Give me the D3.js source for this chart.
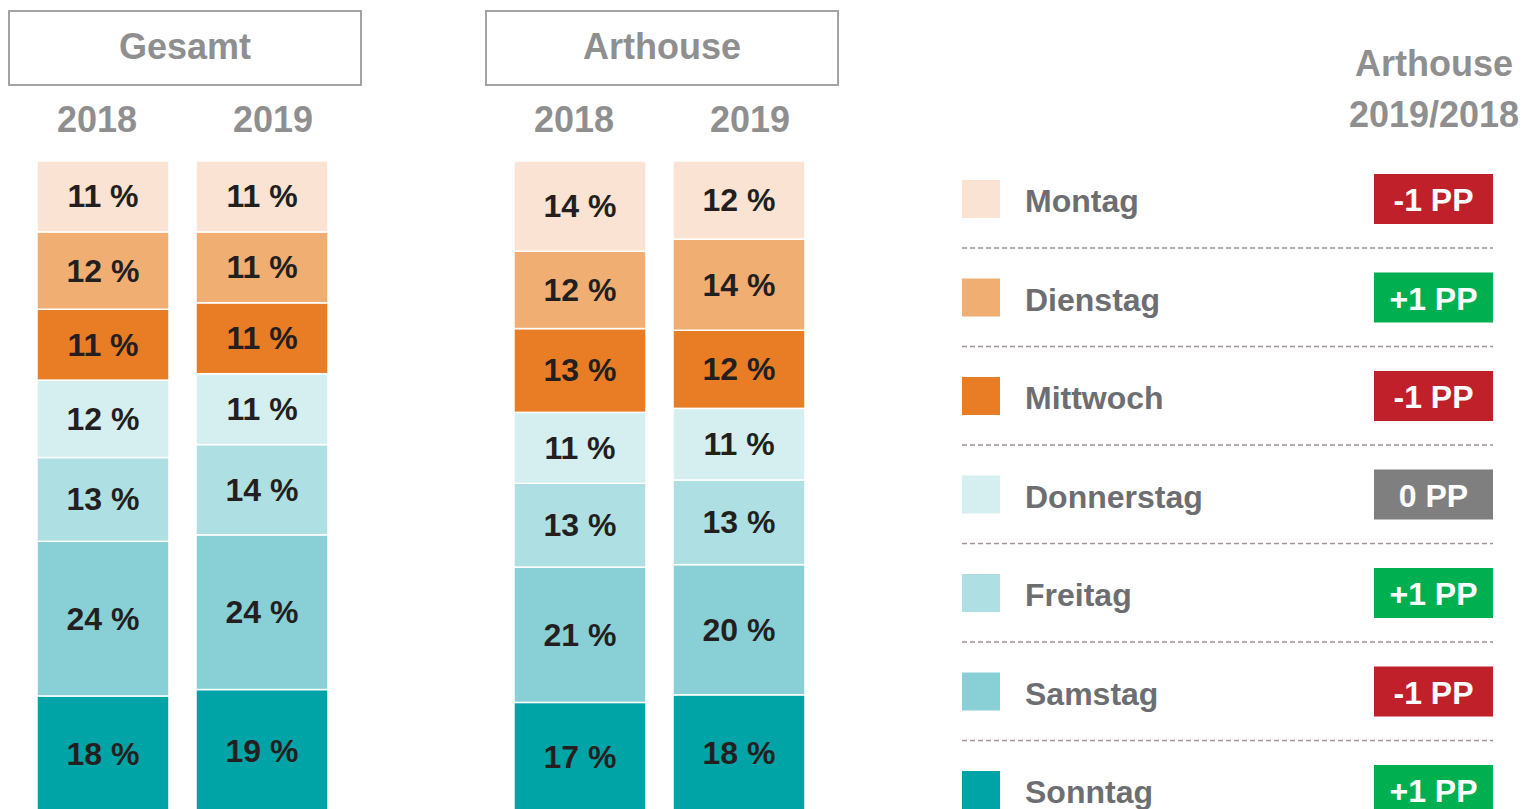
<!DOCTYPE html>
<html>
<head>
<meta charset="utf-8">
<script src="https://cdn.jsdelivr.net/npm/d3@7"></script>
<style>
  html, body { margin: 0; padding: 0; background: #fff; }
  svg { display: block; font-family: "Liberation Sans", Arial, sans-serif; }
</style>
</head>
<body>
<svg id="chart" width="1526" height="809"></svg>
<script>
// Weekday share of cinema visits, stacked from Sonntag (bottom) to Montag (top)
const days = ["Montag", "Dienstag", "Mittwoch", "Donnerstag", "Freitag", "Samstag", "Sonntag"];
const dayColors = ["#fae3d2", "#f0ae72", "#e87d25", "#d5eef0", "#aedfe2", "#88d0d5", "#00a4a6"];

const groups = ["Gesamt", "Arthouse"];
const years = ["2018", "2019"];

const gesamt2018 = [11, 12, 11, 12, 13, 24, 18];
const gesamt2019 = [11, 11, 11, 11, 14, 24, 19];
const arthouse2018 = [14, 12, 13, 11, 13, 21, 17];
const arthouse2019 = [12, 14, 12, 11, 13, 20, 18];

// change Arthouse 2019 vs 2018, in percentage points
const changePP = ["-1 PP", "+1 PP", "-1 PP", "0 PP", "+1 PP", "-1 PP", "+1 PP"];
const changeSign = [-1, 1, -1, 0, 1, -1, 1];

const svg = d3.select("#chart");
const FONT = "'Liberation Sans', Arial, sans-serif";

const bars = [
  { group: "Gesamt", year: "2018", values: gesamt2018 },
  { group: "Gesamt", year: "2019", values: gesamt2019 },
  { group: "Arthouse", year: "2018", values: arthouse2018 },
  { group: "Arthouse", year: "2019", values: arthouse2019 }
];

// one row per bar, one key per weekday
const rows = bars.map(b => {
  const r = { key: b.group + " " + b.year };
  days.forEach((d, i) => r[d] = b.values[i]);
  return r;
});

// Sonntag sits at the bottom, so stack in reverse weekday order
const stack = d3.stack()
  .keys(days.slice().reverse())
  .offset(d3.stackOffsetExpand);
const series = stack(rows);

const groupX = d3.scaleBand().domain(groups).range([9, 838]).paddingInner(0.262);
const yearX = d3.scaleBand().domain(years).range([28, 319]).paddingInner(0.17);
const y = d3.scaleLinear().domain([0, 1]).range([812, 161]);
const color = d3.scaleOrdinal().domain(days).range(dayColors);

const barX = k => {
  const [g, yr] = k.split(" ");
  return groupX(g) + yearX(yr);
};

// group header boxes
const header = svg.append("g");
groups.forEach(g => {
  const x0 = groupX(g);
  header.append("rect")
    .attr("x", x0).attr("y", 11)
    .attr("width", groupX.bandwidth()).attr("height", 74)
    .attr("fill", "none").attr("stroke", "#a3a3a3").attr("stroke-width", 2);
  header.append("text")
    .attr("x", x0 + groupX.bandwidth() / 2).attr("y", 59)
    .attr("text-anchor", "middle")
    .attr("font-size", 36).attr("font-weight", "bold")
    .attr("fill", "#8f8f8f").attr("font-family", FONT)
    .text(g);
  years.forEach((yr, i) => {
    header.append("text")
      .attr("x", x0 + groupX.bandwidth() / 2 + (i === 0 ? -88 : 88)).attr("y", 132)
      .attr("text-anchor", "middle")
      .attr("font-size", 36).attr("font-weight", "bold")
      .attr("fill", "#8f8f8f").attr("font-family", FONT)
      .text(yr);
  });
});

// stacked bars
const layer = svg.append("g").selectAll("g")
  .data(series)
  .join("g")
  .attr("fill", d => color(d.key));

layer.selectAll("rect")
  .data(d => d.map(p => ({ p, key: d.key })))
  .join("rect")
  .attr("x", d => barX(d.p.data.key))
  .attr("y", d => y(d.p[1]))
  .attr("width", yearX.bandwidth())
  .attr("height", d => y(d.p[0]) - y(d.p[1]))
  .attr("stroke", "#fff")
  .attr("stroke-width", 1.5);

layer.selectAll("text")
  .data(d => d.map(p => ({ p, key: d.key })))
  .join("text")
  .attr("x", d => barX(d.p.data.key) + yearX.bandwidth() / 2)
  .attr("y", d => (y(d.p[0]) + y(d.p[1])) / 2 + 11)
  .attr("text-anchor", "middle")
  .attr("font-size", 32).attr("font-weight", "bold")
  .attr("fill", "#231f20").attr("font-family", FONT)
  .text(d => d.p.data[d.key] + " %");

// legend with change badges
const rowY = d3.scaleLinear().domain([0, 6]).range([180, 771]);
const badgeFill = s => s > 0 ? "#00b050" : (s < 0 ? "#c0202a" : "#7f7f80");

const title = svg.append("g");
title.append("text").attr("x", 1434).attr("y", 76)
  .attr("text-anchor", "middle").attr("font-size", 36).attr("font-weight", "bold")
  .attr("fill", "#8f8f8f").attr("font-family", FONT).text("Arthouse");
title.append("text").attr("x", 1434).attr("y", 127)
  .attr("text-anchor", "middle").attr("font-size", 36).attr("font-weight", "bold")
  .attr("fill", "#8f8f8f").attr("font-family", FONT).text("2019/2018");

const legend = svg.append("g").selectAll("g")
  .data(days)
  .join("g")
  .attr("transform", (d, i) => `translate(0,${rowY(i)})`);

legend.append("rect")
  .attr("x", 962).attr("y", 0)
  .attr("width", 38).attr("height", 38)
  .attr("fill", d => color(d));

legend.append("text")
  .attr("x", 1025).attr("y", 32)
  .attr("font-size", 32).attr("font-weight", "bold")
  .attr("fill", "#6d6e71").attr("font-family", FONT)
  .text(d => d);

legend.append("rect")
  .attr("x", 1374).attr("y", -6)
  .attr("width", 119).attr("height", 50)
  .attr("fill", (d, i) => badgeFill(changeSign[i]));

legend.append("text")
  .attr("x", 1433.5).attr("y", 31)
  .attr("text-anchor", "middle")
  .attr("font-size", 32).attr("font-weight", "bold")
  .attr("fill", "#fff").attr("font-family", FONT)
  .text((d, i) => changePP[i]);

legend.filter((d, i) => i < days.length - 1)
  .append("line")
  .attr("x1", 962).attr("x2", 1493)
  .attr("y1", 68).attr("y2", 68)
  .attr("stroke", "#9e9490").attr("stroke-width", 1.5)
  .attr("stroke-dasharray", "5,3");
</script>
</body>
</html>
